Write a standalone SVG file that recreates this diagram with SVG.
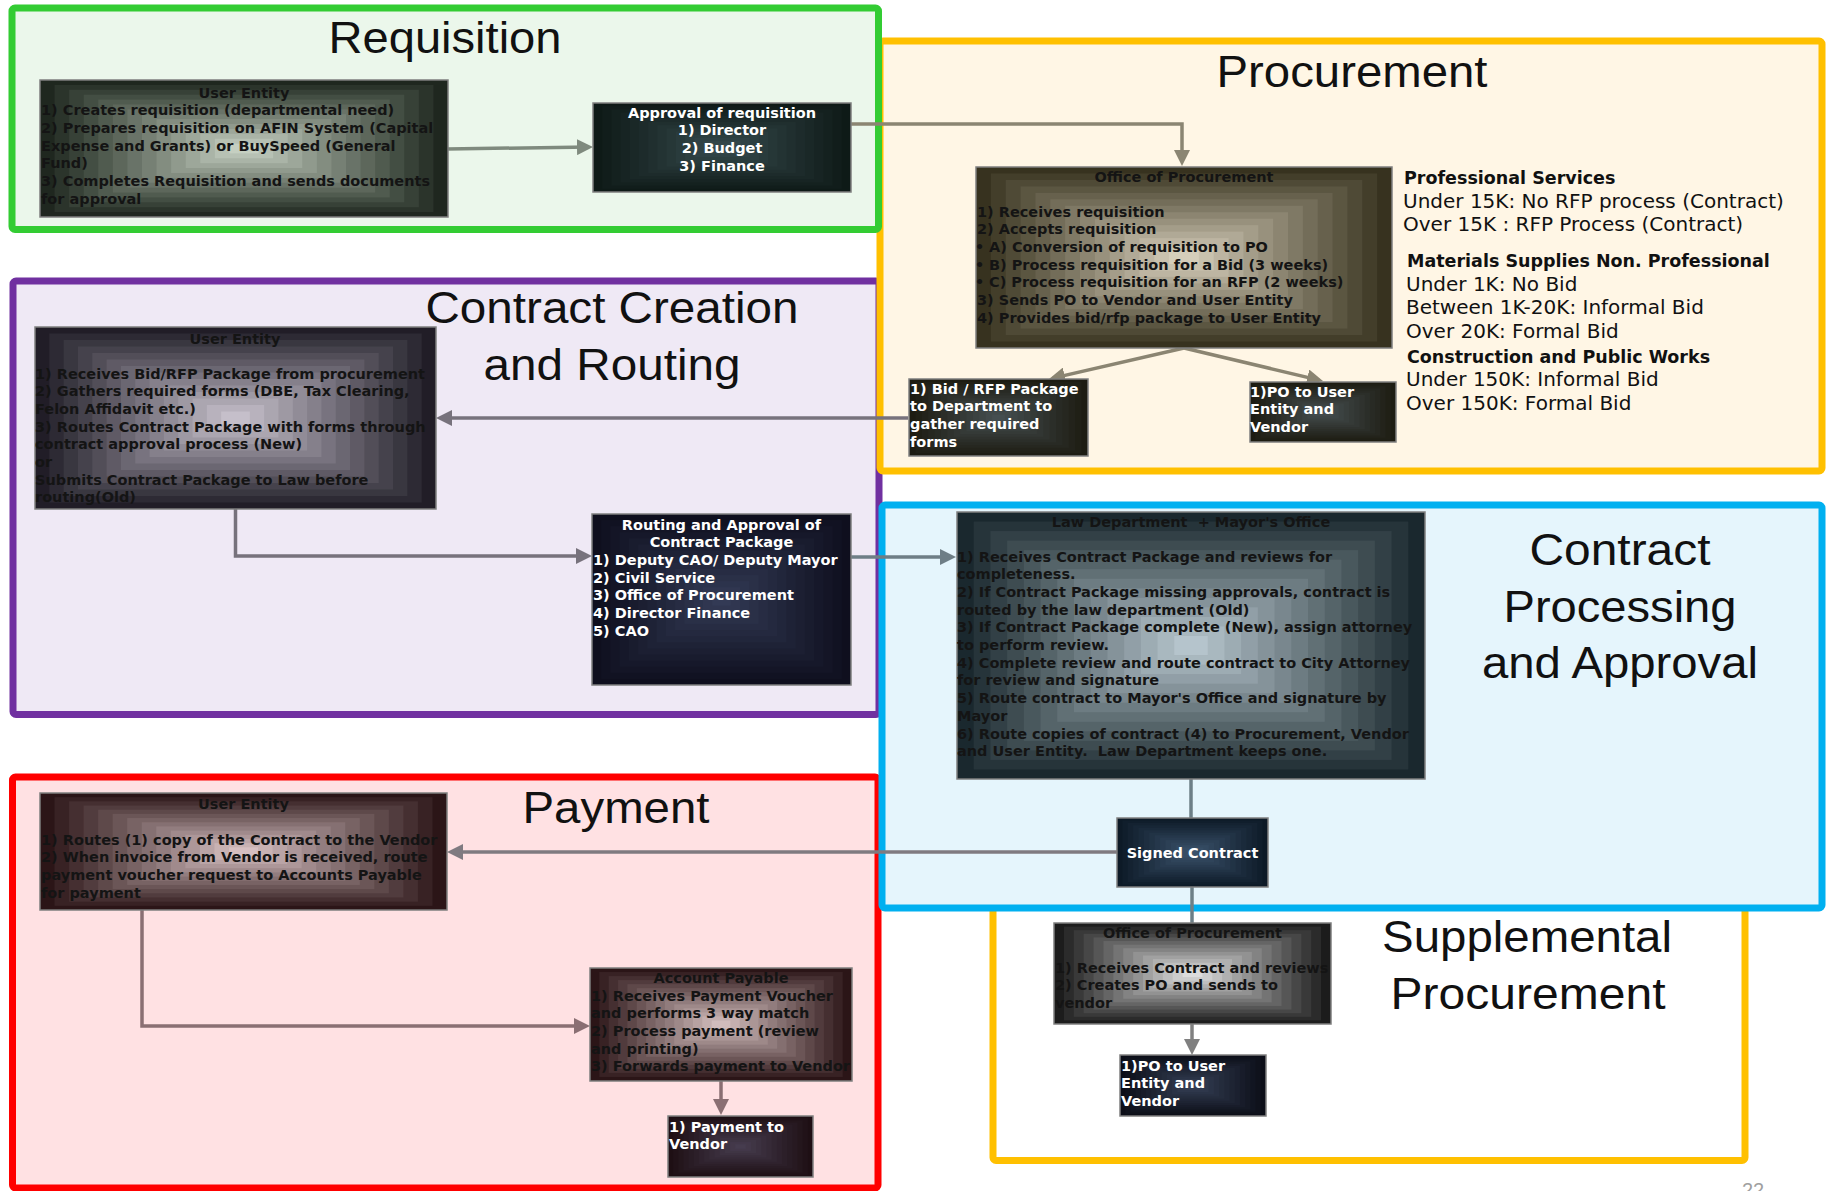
<svg xmlns="http://www.w3.org/2000/svg" xmlns:xlink="http://www.w3.org/1999/xlink" width="1828" height="1191" viewBox="0 0 1828 1191">
<style>
.sec{stroke-width:7;stroke-linejoin:round}
.title{font-family:"Liberation Sans",Arial,sans-serif;font-size:45px;fill:#111;text-anchor:middle}
.t{font-family:"DejaVu Sans",Verdana,sans-serif;font-weight:bold;font-size:14.5px;fill:#141414}
.tw{fill:#ffffff}
.c{text-anchor:middle}
.nbo{fill:none;stroke:#7f7f7f;stroke-width:1.5}
.note{font-family:"DejaVu Sans",Verdana,sans-serif;font-size:20px;fill:#111}
.noteb{font-family:"DejaVu Sans",Verdana,sans-serif;font-size:17.5px;font-weight:bold;fill:#111}
.cn{fill:none;stroke-width:3.5}
</style>
<defs>
<symbol id="bands" viewBox="0 0 28 28" preserveAspectRatio="none">
<rect x="1" y="1" width="26" height="26" fill-opacity="0.065"/>
<rect x="2" y="2" width="24" height="24" fill-opacity="0.070"/>
<rect x="3" y="3" width="22" height="22" fill-opacity="0.075"/>
<rect x="4" y="4" width="20" height="20" fill-opacity="0.081"/>
<rect x="5" y="5" width="18" height="18" fill-opacity="0.089"/>
<rect x="6" y="6" width="16" height="16" fill-opacity="0.097"/>
<rect x="7" y="7" width="14" height="14" fill-opacity="0.108"/>
<rect x="8" y="8" width="12" height="12" fill-opacity="0.121"/>
<rect x="9" y="9" width="10" height="10" fill-opacity="0.137"/>
<rect x="10" y="10" width="8" height="8" fill-opacity="0.159"/>
<rect x="11" y="11" width="6" height="6" fill-opacity="0.189"/>
<rect x="12" y="12" width="4" height="4" fill-opacity="0.233"/>
<rect x="13" y="13" width="2" height="2" fill-opacity="0.304"/>
</symbol>
<marker id="mGreen" markerUnits="userSpaceOnUse" markerWidth="16" markerHeight="16" refX="12" refY="8" orient="auto"><path d="M0,0 L16,8 L0,16 Z" fill="#7f8a7e"/></marker>
<marker id="mTan" markerUnits="userSpaceOnUse" markerWidth="16" markerHeight="16" refX="12" refY="8" orient="auto"><path d="M0,0 L16,8 L0,16 Z" fill="#8b8572"/></marker>
<marker id="mPurple" markerUnits="userSpaceOnUse" markerWidth="16" markerHeight="16" refX="12" refY="8" orient="auto"><path d="M0,0 L16,8 L0,16 Z" fill="#77727c"/></marker>
<marker id="mTeal" markerUnits="userSpaceOnUse" markerWidth="16" markerHeight="16" refX="12" refY="8" orient="auto"><path d="M0,0 L16,8 L0,16 Z" fill="#6e7e86"/></marker>
<marker id="mGray" markerUnits="userSpaceOnUse" markerWidth="16" markerHeight="16" refX="12" refY="8" orient="auto"><path d="M0,0 L16,8 L0,16 Z" fill="#808080"/></marker>
<marker id="mRose" markerUnits="userSpaceOnUse" markerWidth="16" markerHeight="16" refX="12" refY="8" orient="auto"><path d="M0,0 L16,8 L0,16 Z" fill="#8a6f73"/></marker>
<marker id="mSlate" markerUnits="userSpaceOnUse" markerWidth="16" markerHeight="16" refX="12" refY="8" orient="auto"><path d="M0,0 L16,8 L0,16 Z" fill="#7f7a80"/></marker>
</defs>
<rect width="1828" height="1191" fill="#ffffff"/>

<g id="sections">
<rect id="sec-payment" class="sec" x="12.5" y="777" width="865.5" height="411" rx="3" fill="#ffe1e3" stroke="#ff0000"/>
<rect id="sec-supplemental" class="sec" x="993" y="880" width="752" height="280.5" rx="3" fill="#ffffff" stroke="#ffc000"/>
<rect id="sec-contract-creation" class="sec" x="13" y="281" width="866" height="433.5" rx="3" fill="#efe9f5" stroke="#7030a0"/>
<rect id="sec-procurement" class="sec" x="880" y="41" width="942" height="430" rx="3" fill="#fff6e5" stroke="#ffc000"/>
<rect id="sec-requisition" class="sec" x="12" y="8" width="866.5" height="221.5" rx="3" fill="#ebf7eb" stroke="#33cc33"/>
<rect id="sec-contract-processing" class="sec" x="882" y="505" width="940" height="403" rx="3" fill="#e5f5fc" stroke="#00b0f0"/>
<text class="title" x="445" y="53" font-size="43" textLength="233" lengthAdjust="spacingAndGlyphs">Requisition</text>
<text class="title" x="1352" y="87" textLength="271" lengthAdjust="spacingAndGlyphs">Procurement</text>
<text class="title" x="612" y="323" textLength="373" lengthAdjust="spacingAndGlyphs">Contract Creation</text>
<text class="title" x="612" y="380" textLength="257" lengthAdjust="spacingAndGlyphs">and Routing</text>
<text class="title" x="1620" y="565" textLength="181" lengthAdjust="spacingAndGlyphs">Contract</text>
<text class="title" x="1620" y="622" textLength="233" lengthAdjust="spacingAndGlyphs">Processing</text>
<text class="title" x="1620" y="678" textLength="276" lengthAdjust="spacingAndGlyphs">and Approval</text>
<text class="title" x="616" y="823" textLength="187" lengthAdjust="spacingAndGlyphs">Payment</text>
<text class="title" x="1527" y="952" textLength="290" lengthAdjust="spacingAndGlyphs">Supplemental</text>
<text class="title" x="1528" y="1009" textLength="275" lengthAdjust="spacingAndGlyphs">Procurement</text>
<text x="1742" y="1197" font-family="Liberation Sans, Arial, sans-serif" font-size="20" fill="#a0a0a0">22</text>
</g>

<g id="notes">
<text class="noteb" x="1404" y="184">Professional Services</text>
<text class="note" x="1403" y="208">Under 15K: No RFP process (Contract)</text>
<text class="note" x="1403" y="231">Over 15K : RFP Process (Contract)</text>
<text class="noteb" x="1407" y="267">Materials Supplies Non. Professional</text>
<text class="note" x="1406" y="291">Under 1K: No Bid</text>
<text class="note" x="1406" y="314">Between 1K-20K: Informal Bid</text>
<text class="note" x="1406" y="338">Over 20K: Formal Bid</text>
<text class="noteb" x="1407" y="363">Construction and Public Works</text>
<text class="note" x="1406" y="386">Under 150K: Informal Bid</text>
<text class="note" x="1406" y="410">Over 150K: Formal Bid</text>
</g>

<g id="connectors">
<path class="cn" d="M447,149 L589,147" stroke="#7f8a7e" marker-end="url(#mGreen)"/>
<path class="cn" d="M851,124 H1182 V162" stroke="#8b8572" marker-end="url(#mTan)"/>
<path class="cn" d="M1184,348 L1052.9,378.1" stroke="#8b8572" marker-end="url(#mTan)"/>
<path class="cn" d="M1184,348 L1319.1,380.1" stroke="#8b8572" marker-end="url(#mTan)"/>
<path class="cn" d="M908,418 H440" stroke="#77727c" marker-end="url(#mPurple)"/>
<path class="cn" d="M235.5,509 V556 H588" stroke="#77727c" marker-end="url(#mPurple)"/>
<path class="cn" d="M851,557 H952" stroke="#6e7e86" marker-end="url(#mTeal)"/>
<path class="cn" d="M1191,779 V818" stroke="#6d7f87"/>
<path class="cn" d="M1117,852 H451" stroke="#7f7a80" marker-end="url(#mSlate)"/>
<path class="cn" d="M1192,887 V923" stroke="#6d7f87"/>
<path class="cn" d="M1192,1024 V1051" stroke="#808080" marker-end="url(#mGray)"/>
<path class="cn" d="M142,910 V1026 H586" stroke="#8a6f73" marker-end="url(#mRose)"/>
<path class="cn" d="M721,1081 V1111" stroke="#8a6f73" marker-end="url(#mRose)"/>
</g>

<g id="req-user">
<rect x="40" y="80" width="408" height="137" fill="#1f271f"/>
<use xlink:href="#bands" href="#bands" x="40" y="80" width="408" height="137" fill="#e4eedf"/>
<rect class="nbo" x="40" y="80" width="408" height="137"/>
<text class="t c" x="244" y="97.5">User Entity</text>
<text class="t" x="41" y="115.2">1) Creates requisition (departmental need)</text>
<text class="t" x="41" y="132.9">2) Prepares requisition on AFIN System (Capital</text>
<text class="t" x="41" y="150.6">Expense and Grants) or BuySpeed (General</text>
<text class="t" x="41" y="168.3">Fund)</text>
<text class="t" x="41" y="186">3) Completes Requisition and sends documents</text>
<text class="t" x="41" y="203.7">for approval</text>
</g>

<g id="req-approval">
<rect x="593" y="103" width="258" height="89" fill="#0e1a17"/>
<use xlink:href="#bands" href="#bands" x="593" y="103" width="258" height="89" fill="#7a9aa8" opacity="0.45"/>
<rect class="nbo" x="593" y="103" width="258" height="89"/>
<text class="t tw c" x="722" y="117.5">Approval of requisition</text>
<text class="t tw c" x="722" y="135.2">1) Director</text>
<text class="t tw c" x="722" y="152.9">2) Budget</text>
<text class="t tw c" x="722" y="170.6">3) Finance</text>
</g>

<g id="proc-office">
<rect x="976" y="167" width="416" height="181" fill="#37321f"/>
<use xlink:href="#bands" href="#bands" x="976" y="167" width="416" height="181" fill="#f2ecd8"/>
<rect class="nbo" x="976" y="167" width="416" height="181"/>
<text class="t c" x="1184" y="181.5">Office of Procurement</text>
<text class="t" x="977" y="216.5">1) Receives requisition</text>
<text class="t" x="977" y="234.2">2) Accepts requisition</text>
<text class="t" x="975" y="251.9">•</text><text class="t" x="989" y="251.9">A) Conversion of requisition to PO</text>
<text class="t" x="975" y="269.6">•</text><text class="t" x="989" y="269.6">B) Process requisition for a Bid (3 weeks)</text>
<text class="t" x="975" y="287.3">•</text><text class="t" x="989" y="287.3">C) Process requisition for an RFP (2 weeks)</text>
<text class="t" x="977" y="305">3) Sends PO to Vendor and User Entity</text>
<text class="t" x="977" y="322.7">4) Provides bid/rfp package to User Entity</text>
</g>

<g id="proc-bid">
<rect x="909" y="379" width="179" height="77" fill="#1d1c12"/>
<use xlink:href="#bands" href="#bands" x="909" y="379" width="179" height="77" fill="#8aa0b4" opacity="0.45"/>
<rect class="nbo" x="909" y="379" width="179" height="77"/>
<text class="t tw" x="910" y="393.5">1) Bid / RFP Package</text>
<text class="t tw" x="910" y="411.2">to Department to</text>
<text class="t tw" x="910" y="428.9">gather required</text>
<text class="t tw" x="910" y="446.6">forms</text>
</g>

<g id="proc-po">
<rect x="1250" y="382" width="146" height="60" fill="#1d1c12"/>
<use xlink:href="#bands" href="#bands" x="1250" y="382" width="146" height="60" fill="#8aa0b4" opacity="0.45"/>
<rect class="nbo" x="1250" y="382" width="146" height="60"/>
<text class="t tw" x="1250" y="396.5">1)PO to User</text>
<text class="t tw" x="1250" y="414.2">Entity and</text>
<text class="t tw" x="1250" y="431.9">Vendor</text>
</g>

<g id="cc-user">
<rect x="35" y="327" width="401" height="182" fill="#211d27"/>
<use xlink:href="#bands" href="#bands" x="35" y="327" width="401" height="182" fill="#e4dde9"/>
<rect class="nbo" x="35" y="327" width="401" height="182"/>
<text class="t c" x="235" y="343.5">User Entity</text>
<text class="t" x="35" y="378.5">1) Receives Bid/RFP Package from procurement</text>
<text class="t" x="35" y="396.2">2) Gathers required forms (DBE, Tax Clearing,</text>
<text class="t" x="35" y="413.9">Felon Affidavit etc.)</text>
<text class="t" x="35" y="431.6">3) Routes Contract Package with forms through</text>
<text class="t" x="35" y="449.3">contract approval process (New)</text>
<text class="t" x="35" y="467">or</text>
<text class="t" x="35" y="484.7">Submits Contract Package to Law before</text>
<text class="t" x="35" y="502.4">routing(Old)</text>
</g>

<g id="cc-routing">
<rect x="592" y="514" width="259" height="171" fill="#0f0f1e"/>
<use xlink:href="#bands" href="#bands" x="592" y="514" width="259" height="171" fill="#7080b0" opacity="0.45"/>
<rect class="nbo" x="592" y="514" width="259" height="171"/>
<text class="t tw c" x="721.5" y="529.5">Routing and Approval of</text>
<text class="t tw c" x="721.5" y="547.2">Contract Package</text>
<text class="t tw" x="593" y="564.9">1) Deputy CAO/ Deputy Mayor</text>
<text class="t tw" x="593" y="582.6">2) Civil Service</text>
<text class="t tw" x="593" y="600.3">3) Office of Procurement</text>
<text class="t tw" x="593" y="618">4) Director Finance</text>
<text class="t tw" x="593" y="635.7">5) CAO</text>
</g>

<g id="cp-law">
<rect x="957" y="512" width="468" height="267" fill="#1a282e"/>
<use xlink:href="#bands" href="#bands" x="957" y="512" width="468" height="267" fill="#d2e2ea"/>
<rect class="nbo" x="957" y="512" width="468" height="267"/>
<text class="t c" x="1191" y="526.5" xml:space="preserve">Law Department  + Mayor's Office</text>
<text class="t" x="957" y="561.5">1) Receives Contract Package and reviews for</text>
<text class="t" x="957" y="579.2">completeness.</text>
<text class="t" x="957" y="596.9">2) If Contract Package missing approvals, contract is</text>
<text class="t" x="957" y="614.6">routed by the law department (Old)</text>
<text class="t" x="957" y="632.3">3) If Contract Package complete (New), assign attorney</text>
<text class="t" x="957" y="650">to perform review.</text>
<text class="t" x="957" y="667.7">4) Complete review and route contract to City Attorney</text>
<text class="t" x="957" y="685.4">for review and signature</text>
<text class="t" x="957" y="703.1">5) Route contract to Mayor's Office and signature by</text>
<text class="t" x="957" y="720.8">Mayor</text>
<text class="t" x="957" y="738.5">6) Route copies of contract (4) to Procurement, Vendor</text>
<text class="t" x="957" y="756.2" xml:space="preserve">and User Entity.  Law Department keeps one.</text>
</g>

<g id="cp-signed">
<rect x="1117" y="818" width="151" height="69" fill="#0d1a27"/>
<use xlink:href="#bands" href="#bands" x="1117" y="818" width="151" height="69" fill="#7aa0c8" opacity="0.5"/>
<rect class="nbo" x="1117" y="818" width="151" height="69"/>
<text class="t tw c" x="1192.5" y="857.5">Signed Contract</text>
</g>

<g id="sp-office">
<rect x="1054" y="923" width="277" height="101" fill="#1c1c1c"/>
<use xlink:href="#bands" href="#bands" x="1054" y="923" width="277" height="101" fill="#ffffff"/>
<rect class="nbo" x="1054" y="923" width="277" height="101"/>
<text class="t c" x="1192.5" y="937.5">Office of Procurement</text>
<text class="t" x="1055" y="972.5">1) Receives Contract and reviews</text>
<text class="t" x="1055" y="990.2">2) Creates PO and sends to</text>
<text class="t" x="1055" y="1007.9">vendor</text>
</g>

<g id="sp-po">
<rect x="1120" y="1055" width="146" height="61" fill="#0c0e18"/>
<use xlink:href="#bands" href="#bands" x="1120" y="1055" width="146" height="61" fill="#7890b8" opacity="0.45"/>
<rect class="nbo" x="1120" y="1055" width="146" height="61"/>
<text class="t tw" x="1121" y="1070.5">1)PO to User</text>
<text class="t tw" x="1121" y="1088.2">Entity and</text>
<text class="t tw" x="1121" y="1105.9">Vendor</text>
</g>

<g id="pay-user">
<rect x="40" y="793" width="407" height="117" fill="#2b1517"/>
<use xlink:href="#bands" href="#bands" x="40" y="793" width="407" height="117" fill="#f5dfe0"/>
<rect class="nbo" x="40" y="793" width="407" height="117"/>
<text class="t c" x="243.5" y="808.5">User Entity</text>
<text class="t" x="41" y="844.5">1) Routes (1) copy of the Contract to the Vendor</text>
<text class="t" x="41" y="862.2">2) When invoice from Vendor is received, route</text>
<text class="t" x="41" y="879.9">payment voucher request to Accounts Payable</text>
<text class="t" x="41" y="897.6">for payment</text>
</g>

<g id="pay-ap">
<rect x="590" y="968" width="262" height="113" fill="#2b1517"/>
<use xlink:href="#bands" href="#bands" x="590" y="968" width="262" height="113" fill="#f0dcdc"/>
<rect class="nbo" x="590" y="968" width="262" height="113"/>
<text class="t c" x="721" y="982.5">Account Payable</text>
<text class="t" x="591" y="1000.5">1) Receives Payment Voucher</text>
<text class="t" x="591" y="1018.2">and performs 3 way match</text>
<text class="t" x="591" y="1035.9">2) Process payment (review</text>
<text class="t" x="591" y="1053.6">and printing)</text>
<text class="t" x="591" y="1071.3">3) Forwards payment to Vendor</text>
</g>

<g id="pay-vendor">
<rect x="668" y="1116" width="145" height="61" fill="#1e0f14"/>
<use xlink:href="#bands" href="#bands" x="668" y="1116" width="145" height="61" fill="#8a88b0" opacity="0.45"/>
<rect class="nbo" x="668" y="1116" width="145" height="61"/>
<text class="t tw" x="669" y="1131.5">1) Payment to</text>
<text class="t tw" x="669" y="1149.2">Vendor</text>
</g>
</svg>
